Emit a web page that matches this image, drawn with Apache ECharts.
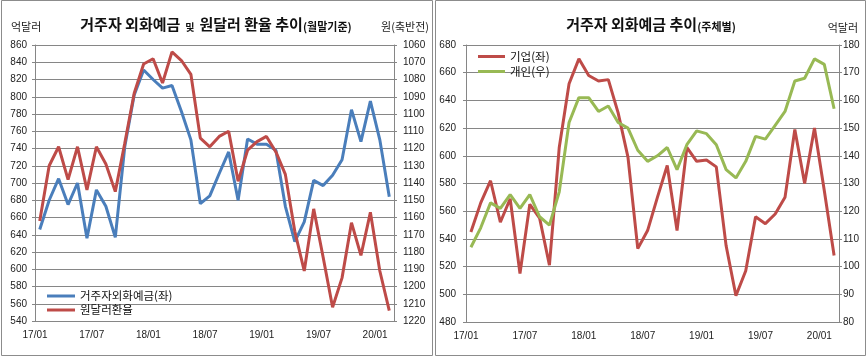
<!DOCTYPE html>
<html><head><meta charset="utf-8">
<script src="https://cdn.jsdelivr.net/npm/echarts@6/dist/echarts.min.js"></script>
<style>html,body{margin:0;padding:0;background:#fff}#c{width:868px;height:358px}</style>
</head><body><div id="c"></div>
<script>
const categories = ['17/01','17/02','17/03','17/04','17/05','17/06','17/07','17/08','17/09','17/10','17/11','17/12',
  '18/01','18/02','18/03','18/04','18/05','18/06','18/07','18/08','18/09','18/10','18/11','18/12',
  '19/01','19/02','19/03','19/04','19/05','19/06','19/07','19/08','19/09','19/10','19/11','19/12',
  '20/01','20/02'];
// 거주자외화예금 (억달러, 좌)
const depositTotal = [646,680,705,675,700,636,692,673,637,742,802,831,
  820,810,813,783,750,676,685,711,736,680,751,745,
  745,738,673,632,655,703,697,709,727,785,748,795,
  750,684];
// 원달러환율 (원, 우, 축반전)
const usdKrw = [1162,1130,1119,1138,1119,1144,1119,1129,1145,1117,1088,1071,
  1068,1082,1064,1069,1077,1114,1119,1113,1110,1139,1121,1116,
  1113,1122,1135,1168,1191,1155,1183,1212,1195,1163,1182,1157,
  1191,1214];
// 기업 (억달러, 좌)
const corporate = [545,566,582,552,569,515,565,555,521,606,652,670,
  658,654,655,631,599,533,546,570,593,546,606,596,
  597,592,535,499,517,556,551,558,570,619,580,620,
  575,528];
// 개인 (억달러, 우)
const individual = [107,114,123,121,126,121,126,118,115,127,152,161,
  161,156,158,152,150,142,138,140,143,135,144,149,
  148,144,135,132,138,147,146,151,156,167,168,175,
  173,157];

const GRAY = '#868686';
const NUM_FONT = 'Liberation Sans';
const KR_FONT = 'Noto Sans CJK KR';

function xAxisCfg(gi, pad) {
  return {
    gridIndex: gi, type: 'category', data: categories, boundaryGap: true,
    axisLine: {lineStyle: {color: GRAY}},
    axisTick: {interval: 5, inside: true, length: 4, lineStyle: {color: GRAY}},
    axisLabel: {interval: 5, margin: 9, fontSize: 10, color: '#222', fontFamily: NUM_FONT, padding: [0, pad, 0, 0]},
    splitLine: {show: false}
  };
}
function yAxisCfg(gi, pos, min, max, interval, margin, split, inverse) {
  return {
    gridIndex: gi, type: 'value', position: pos, min: min, max: max, interval: interval, inverse: !!inverse,
    axisLine: {show: true, lineStyle: {color: GRAY}},
    axisTick: {show: true, length: 3, lineStyle: {color: GRAY}},
    axisLabel: {margin: margin, fontSize: 10, color: '#222', fontFamily: NUM_FONT, formatter: function (v) { return String(v); }},
    splitLine: {show: split, lineStyle: {color: GRAY, width: 1}}
  };
}
function lineSeries(name, xi, yi, data, color) {
  return {
    type: 'line', name: name, xAxisIndex: xi, yAxisIndex: yi, data: data,
    symbol: 'none', smooth: false, color: color,
    lineStyle: {width: 3, color: color}, itemStyle: {color: color}
  };
}
const titleRich = {
  b: {fontSize: 15, fontWeight: 'bold', fontFamily: KR_FONT, color: '#111', verticalAlign: 'bottom', lineHeight: 19},
  s: {fontSize: 11, fontWeight: 'bold', fontFamily: KR_FONT, color: '#111', verticalAlign: 'bottom', lineHeight: 16},
  m: {fontSize: 10, fontWeight: 'bold', fontFamily: KR_FONT, color: '#111', verticalAlign: 'bottom', lineHeight: 16}
};
const legendText = {fontSize: 11.5, color: '#111', fontFamily: KR_FONT};

const chart = echarts.init(document.getElementById('c'), null, {renderer: 'canvas'});
chart.setOption({
  backgroundColor: '#fff',
  animation: false,
  title: [
    {text: '{b|거주자 외화예금} {m|및} {b|원달러 환율 추이}{s|(월말기준)}', left: 216, top: 13, textAlign: 'center', padding: 0,
     textStyle: {rich: titleRich}},
    {text: '{b|거주자 외화예금 추이}{s|(주체별)}', left: 651, top: 13, textAlign: 'center', padding: 0,
     textStyle: {rich: titleRich}}
  ],
  grid: [
    {left: 35, top: 45, width: 359, height: 276},
    {left: 466, top: 45, width: 373, height: 277}
  ],
  xAxis: [xAxisCfg(0, 9.4), xAxisCfg(1, 9.8)],
  yAxis: [
    yAxisCfg(0, 'left', 540, 860, 20, 8, true),
    yAxisCfg(0, 'right', 1060, 1220, 10, 9, false, true),
    yAxisCfg(1, 'left', 480, 680, 20, 10, true),
    yAxisCfg(1, 'right', 80, 180, 10, 4, false)
  ],
  legend: [
    {data: ['거주자외화예금(좌)', '원달러환율'], orient: 'vertical', left: 47, top: 289, padding: 0,
     icon: 'rect', itemWidth: 28, itemHeight: 3, itemGap: 0, itemTextGap: 2,
     textStyle: Object.assign({lineHeight: 14}, legendText)},
    {data: ['기업(좌)', '개인(우)'], orient: 'vertical', left: 478, top: 49, padding: 0,
     icon: 'rect', itemWidth: 27, itemHeight: 3, itemGap: 0, itemTextGap: 2,
     textStyle: Object.assign({lineHeight: 15}, legendText)}
  ],
  series: [
    lineSeries('거주자외화예금(좌)', 0, 0, depositTotal, '#4A7EBB'),
    lineSeries('원달러환율', 0, 1, usdKrw, '#BE4B48'),
    lineSeries('기업(좌)', 1, 2, corporate, '#BE4B48'),
    lineSeries('개인(우)', 1, 3, individual, '#98B954')
  ],
  graphic: [
    {type: 'rect', silent: true, z: -10, shape: {x: 1.5, y: 0.5, width: 431, height: 355},
     style: {fill: null, stroke: '#8c8c8c', lineWidth: 1}},
    {type: 'rect', silent: true, z: -10, shape: {x: 435.5, y: 0.5, width: 430, height: 355},
     style: {fill: null, stroke: '#8c8c8c', lineWidth: 1}},
    {type: 'text', silent: true, x: 11, y: 27,
     style: {text: '억달러', fontSize: 11, fontFamily: KR_FONT, fill: '#222', textVerticalAlign: 'middle', verticalAlign: 'middle'}},
    {type: 'text', silent: true, x: 429, y: 27,
     style: {text: '원(축반전)', fontSize: 11, fontFamily: KR_FONT, fill: '#222', textAlign: 'right', align: 'right', textVerticalAlign: 'middle', verticalAlign: 'middle'}},
    {type: 'text', silent: true, x: 858, y: 28,
     style: {text: '억달러', fontSize: 11, fontFamily: KR_FONT, fill: '#222', textAlign: 'right', align: 'right', textVerticalAlign: 'middle', verticalAlign: 'middle'}}
  ]
});
</script>
</body></html>
